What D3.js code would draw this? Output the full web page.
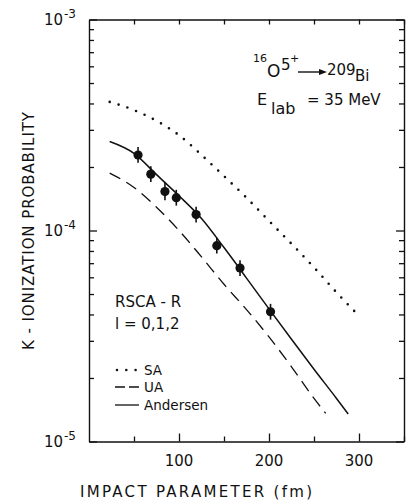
<!DOCTYPE html>
<html>
<head>
<meta charset="utf-8">
<script src="https://cdn.jsdelivr.net/npm/d3@7"></script>
<style>
  body { margin: 0; background: #fff; }
  text { font-family: "DejaVu Sans", sans-serif; fill: #111; }
</style>
</head>
<body>
<div id="chart"></div>
<script>
// Impact parameter (fm) and K-ionization probability
const saB = [23, 50, 75, 100, 125, 150, 175, 200, 225, 250, 275, 300];
const saP = [4.07e-4, 3.72e-4, 3.31e-4, 2.83e-4, 2.28e-4, 1.81e-4, 1.43e-4, 1.11e-4, 8.65e-5, 6.68e-5, 5.09e-5, 3.94e-5];

const uaB = [23, 50, 75, 100, 125, 150, 175, 200, 225, 250, 263];
const uaP = [1.87e-4, 1.60e-4, 1.29e-4, 1.0e-4, 7.5e-5, 5.56e-5, 4.22e-5, 3.13e-5, 2.26e-5, 1.60e-5, 1.36e-5];

const andB = [23, 50, 75, 100, 125, 150, 175, 200, 225, 250, 275, 288];
const andP = [2.64e-4, 2.32e-4, 1.84e-4, 1.46e-4, 1.14e-4, 8.3e-5, 5.95e-5, 4.25e-5, 3.05e-5, 2.2e-5, 1.6e-5, 1.35e-5];

// measured points with relative error
const expB = [54.5, 68.7, 84.4, 97, 119, 142, 167.8, 201.7];
const expP = [2.28e-4, 1.85e-4, 1.53e-4, 1.43e-4, 1.19e-4, 8.47e-5, 6.64e-5, 4.12e-5];
const expErr = [0.09, 0.09, 0.10, 0.09, 0.09, 0.09, 0.09, 0.09];

const xTicks = [50, 100, 150, 200, 250, 300, 350];
const xLabels = [100, 200, 300];
const yMajor = [1e-5, 1e-4, 1e-3];
const yExp = [-5, -4, -3];

// Set up dimensions
const W = 406, H = 502;
const margin = {top: 19.5, right: 2, bottom: 60.5, left: 89};
const width = W - margin.left - margin.right;
const height = H - margin.top - margin.bottom;

const svg = d3.select("#chart")
    .append("svg")
    .attr("width", W)
    .attr("height", H)
    .append("g")
    .attr("transform", `translate(${margin.left},${margin.top})`);

// Scales
const x = d3.scaleLinear().domain([0, 350]).range([0, width]);
const y = d3.scaleLog().domain([1e-5, 1e-3]).range([height, 0]);

// minor ticks 2..9 in each decade
const yMinor = [];
[1e-5, 1e-4].forEach(d => { for (let k = 2; k <= 9; k++) yMinor.push(d * k); });

const axisStyle = g => {
    g.selectAll("path").attr("stroke", "#111").attr("stroke-width", 1.4);
    g.selectAll("line").attr("stroke", "#111").attr("stroke-width", 1.3);
};

// bottom axis (ticks pointing inward)
svg.append("g")
    .attr("transform", `translate(0,${height})`)
    .call(d3.axisBottom(x).tickValues(xTicks).tickSizeOuter(0).tickFormat(""))
    .call(g => g.selectAll(".tick line").attr("y2", d => xLabels.includes(d) ? -8 : -5))
    .call(axisStyle);

// top axis
svg.append("g")
    .call(d3.axisTop(x).tickValues(xTicks).tickSizeOuter(0).tickFormat(""))
    .call(g => g.selectAll(".tick line").attr("y2", 5))
    .call(axisStyle);

// left axis
svg.append("g")
    .call(d3.axisLeft(y).tickValues(yMajor.concat(yMinor)).tickSizeOuter(0).tickFormat(""))
    .call(g => g.selectAll(".tick line").attr("x2", d => yMajor.includes(d) ? 8 : 5))
    .call(axisStyle);

// right axis
svg.append("g")
    .attr("transform", `translate(${width},0)`)
    .call(d3.axisRight(y).tickValues(yMajor.concat(yMinor)).tickSizeOuter(0).tickFormat(""))
    .call(g => g.selectAll(".tick line").attr("x2", d => yMajor.includes(d) ? -8 : -5))
    .call(axisStyle);

// x tick labels
svg.selectAll(".xlab")
    .data(xLabels)
    .enter().append("text")
    .attr("x", d => x(d))
    .attr("y", height + 24)
    .attr("text-anchor", "middle")
    .style("font-size", "15px")
    .text(d => d);

// y tick labels 10^n
yMajor.forEach((v, i) => {
    svg.append("text")
        .attr("x", -26)
        .attr("y", y(v) + 5.5)
        .attr("text-anchor", "end")
        .style("font-size", "15px")
        .text("10");
    svg.append("text")
        .attr("x", -25)
        .attr("y", y(v) - 2)
        .style("font-size", "12px")
        .text("-" + Math.abs(yExp[i]));
});

// curves
const line = d3.line()
    .x(d => x(d[0]))
    .y(d => y(d[1]))
    .curve(d3.curveMonotoneX);

svg.append("path")
    .datum(d3.zip(saB, saP))
    .attr("fill", "none")
    .attr("stroke", "#111")
    .attr("stroke-width", 2.6)
    .attr("stroke-linecap", "round")
    .attr("stroke-dasharray", "0 9.3")
    .attr("d", line);

svg.append("path")
    .datum(d3.zip(uaB, uaP))
    .attr("fill", "none")
    .attr("stroke", "#111")
    .attr("stroke-width", 1.3)
    .attr("stroke-dasharray", "12 7")
    .attr("d", line);

svg.append("path")
    .datum(d3.zip(andB, andP))
    .attr("fill", "none")
    .attr("stroke", "#111")
    .attr("stroke-width", 1.5)
    .attr("d", line);

// data points with error bars
const pts = d3.zip(expB, expP, expErr);
svg.selectAll(".err")
    .data(pts)
    .enter().append("line")
    .attr("x1", d => x(d[0])).attr("x2", d => x(d[0]))
    .attr("y1", d => y(d[1] * (1 + d[2])))
    .attr("y2", d => y(d[1] / (1 + d[2])))
    .attr("stroke", "#111")
    .attr("stroke-width", 1.6);

svg.selectAll(".pt")
    .data(pts)
    .enter().append("circle")
    .attr("cx", d => x(d[0]))
    .attr("cy", d => y(d[1]))
    .attr("r", 4.6)
    .attr("fill", "#111");

// reaction annotation (positions in page coords)
const ann = d3.select("svg").append("g");
ann.append("text").attr("x", 253).attr("y", 62).style("font-size", "11px").text("16");
ann.append("text").attr("x", 267).attr("y", 77).style("font-size", "17px").text("O");
ann.append("text").attr("x", 281).attr("y", 70).style("font-size", "15px").text("5");
ann.append("text").attr("x", 290).attr("y", 62).style("font-size", "11px").text("+");
ann.append("line").attr("x1", 298).attr("x2", 320).attr("y1", 72).attr("y2", 72)
    .attr("stroke", "#111").attr("stroke-width", 1.4);
ann.append("path").attr("d", "M319,69 L327,72 L319,75 Z").attr("fill", "#111");
ann.append("text").attr("x", 327).attr("y", 75).style("font-size", "15px").text("209");
ann.append("text").attr("x", 355).attr("y", 81).style("font-size", "15px").text("Bi");

ann.append("text").attr("x", 257).attr("y", 105).style("font-size", "16px").text("E");
ann.append("text").attr("x", 271).attr("y", 114).style("font-size", "16px").text("lab");
ann.append("text").attr("x", 307).attr("y", 105).style("font-size", "15px").text("= 35 MeV");

ann.append("text").attr("x", 115).attr("y", 307).style("font-size", "15px").text("RSCA - R");
ann.append("text").attr("x", 115).attr("y", 329).style("font-size", "15px").text("l = 0,1,2");

// legend
const legend = [
    {name: "SA", dash: "0 9.3", w: 2.6, cap: "round", y: 370},
    {name: "UA", dash: "10 4", w: 1.3, cap: "butt", y: 387},
    {name: "Andersen", dash: null, w: 1.3, cap: "butt", y: 405}
];
legend.forEach(l => {
    ann.append("line")
        .attr("x1", l.name === "SA" ? 117 : 115).attr("x2", l.name === "SA" ? 137 : 139)
        .attr("y1", l.y).attr("y2", l.y)
        .attr("stroke", "#111")
        .attr("stroke-width", l.w)
        .attr("stroke-linecap", l.cap)
        .attr("stroke-dasharray", l.dash);
    ann.append("text")
        .attr("x", 144)
        .attr("y", l.y + 5)
        .style("font-size", "13.5px")
        .text(l.name);
});

// axis titles
ann.append("text")
    .attr("x", 196)
    .attr("y", 497)
    .attr("text-anchor", "middle")
    .attr("textLength", 232)
    .attr("lengthAdjust", "spacing")
    .style("font-size", "15px")
    .text("IMPACT  PARAMETER  (fm)");

ann.append("text")
    .attr("transform", "translate(34,231) rotate(-90)")
    .attr("text-anchor", "middle")
    .attr("textLength", 238)
    .attr("lengthAdjust", "spacing")
    .style("font-size", "15px")
    .text("K - IONIZATION  PROBABILITY");
</script>
</body>
</html>
